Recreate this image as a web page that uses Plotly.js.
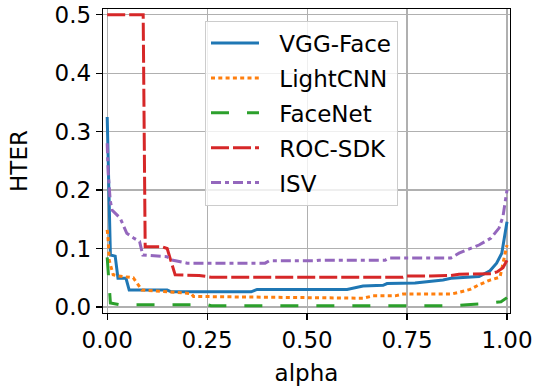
<!DOCTYPE html>
<html>
<head>
<meta charset="utf-8">
<script src="https://cdn.plot.ly/plotly-3.0.1.min.js"></script>
<style>html,body{margin:0;padding:0;background:#fff;}#chart{width:535px;height:389px;}</style>
</head>
<body>
<div id="chart"></div>
<script>
// Series names
const seriesNames = ["VGG-Face", "LightCNN", "FaceNet", "ROC-SDK", "ISV"];

// VGG-Face
const vggAlpha = [0, 0.008, 0.02, 0.027, 0.047, 0.055, 0.15, 0.16, 0.36, 0.375, 0.6, 0.64, 0.69, 0.7, 0.77, 0.8, 0.84, 0.86, 0.93, 0.9575, 0.974, 0.987, 1.0];
const vggHter  = [0.325, 0.089, 0.087, 0.049, 0.049, 0.029, 0.029, 0.026, 0.026, 0.030, 0.030, 0.036, 0.037, 0.040, 0.041, 0.043, 0.046, 0.049, 0.052, 0.062, 0.075, 0.092, 0.146];

// LightCNN
const lcnnAlpha = [0, 0.002, 0.005, 0.01, 0.015, 0.028, 0.065, 0.087, 0.16, 0.21, 0.216, 0.64, 0.665, 0.72, 0.74, 0.86, 0.88, 0.9075, 0.93, 0.9575, 0.9825, 0.9925, 1.0];
const lcnnHter  = [0.132, 0.12, 0.08, 0.069, 0.055, 0.053, 0.050, 0.029, 0.026, 0.023, 0.018, 0.015, 0.019, 0.019, 0.022, 0.022, 0.025, 0.030, 0.038, 0.046, 0.051, 0.080, 0.106];

// FaceNet
const fnAlpha = [0, 0.008, 0.03, 0.25, 0.26, 0.86, 0.9, 0.95, 0.985, 1.0];
const fnHter  = [0.085, 0.007, 0.004, 0.004, 0.002, 0.002, 0.004, 0.006, 0.009, 0.016];

// ROC-SDK
const rocAlpha = [0, 0.09, 0.095, 0.137, 0.15, 0.17, 0.23, 0.26, 0.74, 0.75, 0.81, 0.86, 0.88, 0.96, 0.975, 0.99, 1.0];
const rocHter  = [0.5, 0.5, 0.103, 0.103, 0.1, 0.055, 0.054, 0.051, 0.051, 0.053, 0.053, 0.054, 0.056, 0.057, 0.060, 0.067, 0.08];

// ISV
const isvAlpha = [0, 0.0025, 0.0075, 0.012, 0.0325, 0.049, 0.066, 0.081, 0.089, 0.149, 0.165, 0.2, 0.395, 0.405, 0.52, 0.53, 0.695, 0.705, 0.78, 0.86, 0.88, 0.91, 0.93, 0.96, 0.98, 0.99, 1.0];
const isvHter  = [0.28, 0.229, 0.183, 0.166, 0.152, 0.126, 0.118, 0.112, 0.089, 0.086, 0.080, 0.075, 0.075, 0.079, 0.079, 0.080, 0.080, 0.084, 0.084, 0.084, 0.092, 0.100, 0.106, 0.118, 0.135, 0.155, 0.2];

// Tick values
const xTicks = [0, 0.25, 0.5, 0.75, 1.0];
const yTicks = [0, 0.1, 0.2, 0.3, 0.4, 0.5];

const colors = ["#1f77b4", "#ff7f0e", "#2ca02c", "#d62728", "#9467bd"];
const dashes = ["solid", "4px,3.3px", "18px,18px", "18px,4px", "10px,4px,4px,4px"];
const xs = [vggAlpha, lcnnAlpha, fnAlpha, rocAlpha, isvAlpha];
const ys = [vggHter, lcnnHter, fnHter, rocHter, isvHter];

const font = "DejaVu Sans, sans-serif";
const pad = "\u2002\u2006";
const traces = seriesNames.map((n, i) => ({
  x: xs[i], y: ys[i], name: pad + n, type: "scatter", mode: "lines",
  legendgroup: "g" + i,
  line: {color: colors[i], width: 3, dash: dashes[i], shape: "linear"}
}));

const axisCommon = {
  showline: true, mirror: true, linecolor: "#000", linewidth: 1.25,
  ticks: "outside", ticklen: 6, tickwidth: 1.25, tickcolor: "#000",
  showgrid: true, gridcolor: "#b0b0b0", gridwidth: 1.2, zeroline: false,
  tickfont: {family: font, size: 23, color: "#000"}
};

const layout = {
  width: 535, height: 389,
  margin: {l: 103, r: 25, t: 9, b: 76},
  paper_bgcolor: "#fff", plot_bgcolor: "#fff",
  font: {family: font, size: 23, color: "#000"},
  xaxis: Object.assign({}, axisCommon, {
    range: [-0.0105, 1.0075], tickvals: xTicks, ticktext: xTicks.map(v => v.toFixed(2)),
    title: {text: "alpha", font: {family: font, size: 23, color: "#000"}, standoff: 13}
  }),
  yaxis: Object.assign({}, axisCommon, {
    range: [-0.0103, 0.5098], tickvals: yTicks, ticktext: yTicks.map(v => v.toFixed(1)),
    title: {text: "HTER", font: {family: font, size: 23, color: "#000"}, standoff: 20}
  }),
  showlegend: true,
  legend: {
    x: 0.2506, y: 0.962, xanchor: "left", yanchor: "top",
    bgcolor: "rgba(255,255,255,0.8)", bordercolor: "#cccccc", borderwidth: 1,
    font: {family: font, size: 23, color: "#000"},
    tracegroupgap: 2, itemwidth: 48
  }
};

Plotly.newPlot("chart", traces, layout, {displayModeBar: false, staticPlot: true});
</script>
</body>
</html>
